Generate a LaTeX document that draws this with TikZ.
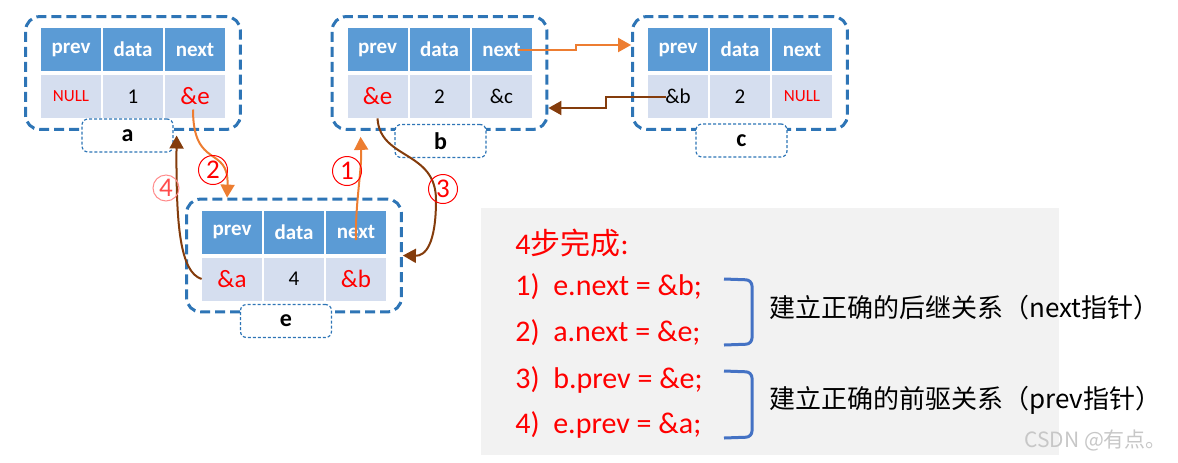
\documentclass[tikz,border=0pt]{standalone}
\usepackage{fontspec}
\setmainfont{Carlito}
\newfontfamily\cjk{Noto Sans CJK SC}
\usepackage{xcolor}
\usepackage{tikz}
\usetikzlibrary{arrows.meta,fit}

\begin{document}
\begin{tikzpicture}[x=0.5pt,y=-0.5pt]
    \definecolor{myhead}{RGB}{91,155,213}
    \definecolor{mycell}{RGB}{213,222,239}
    \definecolor{myframe}{RGB}{46,117,182}
    \definecolor{myorange}{RGB}{237,125,49}
    \definecolor{mybrown}{RGB}{132,60,12}
    \definecolor{mybracket}{RGB}{68,114,196}
    \definecolor{mypanel}{RGB}{242,242,242}

    % 表头和数据格
    \tikzstyle{head}=[rectangle,fill=myhead,text=white,font=\fontsize{10.5pt}{12pt}\selectfont\bfseries,minimum width=30pt,minimum height=21.5pt,inner sep=0pt]
    \tikzstyle{cell}=[rectangle,fill=mycell,font=\fontsize{10.5pt}{12pt}\selectfont,minimum width=30pt,minimum height=21.5pt,inner sep=0pt]
    \tikzstyle{ptr}=[text=red,font=\fontsize{12.5pt}{14pt}\selectfont]
    \tikzstyle{nullval}=[text=red,font=\fontsize{8.5pt}{10pt}\selectfont]
    % 结点外框和名字
    \tikzstyle{nodebox}=[rectangle,draw=myframe,line width=1.5pt,dash pattern=on 5pt off 2.5pt,rounded corners=7pt,inner xsep=7.5pt,inner ysep=5.5pt]
    \tikzstyle{tag}=[rectangle,draw=myframe,fill=white,line width=0.6pt,dash pattern=on 1.5pt off 1pt,rounded corners=3pt,minimum width=45.5pt,minimum height=16.5pt,font=\fontsize{12pt}{14pt}\selectfont\bfseries]
    % 指针线
    \tikzstyle{orangeline}=[draw=myorange,line width=1pt,-{Triangle[length=6.5pt,width=7pt]}]
    \tikzstyle{brownline}=[draw=mybrown,line width=1pt,-{Triangle[length=6.5pt,width=7pt]}]
    \tikzstyle{circnum}=[circle,draw=red,line width=0.5pt,text=red,minimum size=14.5pt,inner sep=0pt,font=\fontsize{13.5pt}{15pt}\selectfont]
    \tikzstyle{txt}=[anchor=west,inner sep=0pt]

    \useasboundingbox (0,0) rectangle (1178,462);
    \fill[mypanel] (481,208) rectangle (1059,455);

    % 结点 a
    \node[head](a1) at (71,49.5){prev};
    \node[head,right of=a1,node distance=31pt](a2){data};
    \node[head,right of=a2,node distance=31pt](a3){next};
    \node[cell,below of=a1,node distance=23.5pt,nullval](a4){NULL};
    \node[cell,below of=a2,node distance=23.5pt](a5){1};
    \node[cell,below of=a3,node distance=23.5pt,ptr](a6){\&e};
    \node[nodebox,fit=(a1)(a6)](boxa){};
    \node[tag](la) at (127.5,135.5){a};

    % 结点 b
    \node[head](b1) at (377.5,49.5){prev};
    \node[head,right of=b1,node distance=31pt](b2){data};
    \node[head,right of=b2,node distance=31pt](b3){next};
    \node[cell,below of=b1,node distance=23.5pt,ptr](b4){\&e};
    \node[cell,below of=b2,node distance=23.5pt](b5){2};
    \node[cell,below of=b3,node distance=23.5pt](b6){\&c};
    \node[nodebox,fit=(b1)(b6)](boxb){};
    \node[tag](lb) at (440.5,141){b};

    % 结点 c
    \node[head](c1) at (678,49.5){prev};
    \node[head,right of=c1,node distance=31pt](c2){data};
    \node[head,right of=c2,node distance=31pt](c3){next};
    \node[cell,below of=c1,node distance=23.5pt](c4){\&b};
    \node[cell,below of=c2,node distance=23.5pt](c5){2};
    \node[cell,below of=c3,node distance=23.5pt,nullval](c6){NULL};
    \node[nodebox,fit=(c1)(c6)](boxc){};
    \node[tag](lc) at (741.5,140.5){c};

    % 结点 e
    \node[head](e1) at (232,232){prev};
    \node[head,right of=e1,node distance=31pt](e2){data};
    \node[head,right of=e2,node distance=31pt](e3){next};
    \node[cell,below of=e1,node distance=23.5pt,ptr](e4){\&a};
    \node[cell,below of=e2,node distance=23.5pt](e5){4};
    \node[cell,below of=e3,node distance=23.5pt,ptr](e6){\&b};
    \node[nodebox,fit=(e1)(e6)](boxe){};
    \node[tag](le) at (286,321){e};

    % 开始画线
    \draw[orangeline] ([xshift=8pt]b3.center) -- ++(29pt,0pt) |- ([yshift=14pt]boxc.west);
    \draw[brownline] ([xshift=-6pt]c4.center) -- ++(-30pt,0pt) |- ([yshift=-17.5pt]boxb.east);
    \draw[orangeline] ([yshift=-4pt]e3.center) .. controls (355,205) and (362,170) .. ([xshift=15pt,yshift=-3pt]boxb.south west);
    \draw[orangeline] ([xshift=-1pt,yshift=-6.5pt]a6.center) .. controls (193,170) and (229,145) .. ([xshift=21pt]boxe.north west);
    \draw[brownline] (b4.south) .. controls (380,160) and (436,150) .. (436,200) .. controls (436,245) and (425,256) .. (boxe.east);
    \draw[brownline] (e4.west) .. controls (180,272) and (176,225) .. ([xshift=1.5pt]la.east);

    \node[circnum](n1) at (347,171){1};
    \node[circnum](n2) at (213,170){2};
    \node[circnum](n3) at (443,189){3};
    \node[circnum,draw=red!45,text=red!70,minimum size=13pt](n4) at (166,188){4};

    % 右边的说明
    \node[txt,text=red,font=\fontsize{15pt}{18pt}\selectfont](title) at (515,243){4{\cjk 步完成}:};
    \node[txt,text=red,font=\fontsize{15pt}{18pt}\selectfont](s1) at (515,287){1)\ \ e.next = \&b;};
    \node[txt,text=red,font=\fontsize{15pt}{18pt}\selectfont](s2) at (515,333){2)\ \ a.next = \&e;};
    \node[txt,text=red,font=\fontsize{15pt}{18pt}\selectfont](s3) at (515,380){3)\ \ b.prev = \&e;};
    \node[txt,text=red,font=\fontsize{15pt}{18pt}\selectfont](s4) at (515,425){4)\ \ e.prev = \&a;};
    \draw[mybracket,line width=1.5pt,rounded corners=3pt] (724,279) -- (752,280) -- (752,344) -- (724,345);
    \draw[mybracket,line width=1.5pt,rounded corners=3pt] (724,371) -- (752,372) -- (752,437) -- (724,438);
    \node[txt,font=\cjk\fontsize{13pt}{16pt}\selectfont](r1) at (769,308){建立正确的后继关系（next指针）};
    \node[txt,font=\cjk\fontsize{13pt}{16pt}\selectfont](r2) at (769,400){建立正确的前驱关系（prev指针）};
    \node[txt,text=black!22,font=\cjk\fontsize{10.5pt}{12pt}\selectfont](wm) at (1024,440){CSDN @有点。};
\end{tikzpicture}
\end{document}
